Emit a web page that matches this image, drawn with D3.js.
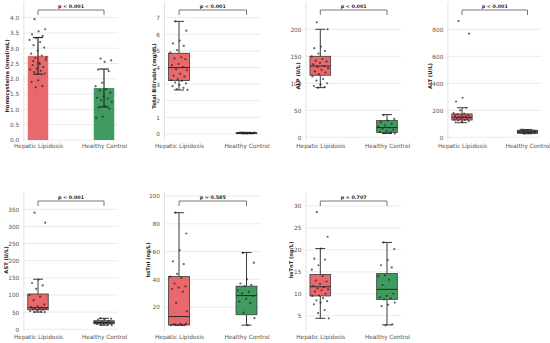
<!DOCTYPE html>
<html><head><meta charset="utf-8">
<script src="https://cdn.jsdelivr.net/npm/d3@7"></script>
<style>html,body{margin:0;padding:0;background:#fff}svg{display:block}</style>
</head><body>
<svg id="c" width="550" height="343"></svg>
<script>
// ---------- DATA ----------
const categories = ["Hepatic Lipidosis", "Healthy Control"];
const yLabels = ["Homocysteine (nmol/mL)", "Total Bilirubin (mg/dL)", "ALP (U/L)", "ALT (U/L)", "AST (U/L)", "hsTnI (ng/L)", "hsTnT (ng/L)"];
const pTexts = ["p < 0.001", "p < 0.001", "p < 0.001", "p < 0.001", "p < 0.001", "p = 0.585", "p = 0.707"];

const ticksHcy = [0.0, 0.5, 1.0, 1.5, 2.0, 2.5, 3.0, 3.5, 4.0];
const ticksTbil = [0, 1, 2, 3, 4, 5, 6, 7];
const ticksALP = [0, 50, 100, 150, 200];
const ticksALT = [0, 200, 400, 600, 800];
const ticksAST = [0, 50, 100, 150, 200, 250, 300, 350];
const ticksTnI = [20, 40, 60, 80, 100];
const ticksTnT = [5, 10, 15, 20, 25, 30];

// Homocysteine: bar = mean, error bar = SD
const hcyMean = [2.75, 1.70];
const hcySD = [0.60, 0.62];
const hcyHL = [3.95, 3.62, 3.55, 3.45, 3.40, 3.33, 3.27, 3.20, 3.10, 3.02, 2.92, 2.82, 2.76, 2.68, 2.62, 2.52, 2.45, 2.38, 2.33, 2.30, 2.26, 2.22, 2.17, 1.95, 1.90, 1.76, 1.72, 2.70, 2.48, 2.58];
const hcyHC = [2.66, 2.60, 2.55, 2.30, 2.25, 1.87, 1.76, 1.66, 1.62, 1.55, 1.42, 1.38, 1.35, 1.30, 1.25, 1.10, 1.06, 1.02, 0.76, 0.73];

// Box stats: [lower whisker, Q1, median, Q3, upper whisker]
const tbilBox = [[2.65, 3.22, 4.00, 4.86, 6.78], [0.02, 0.04, 0.05, 0.07, 0.10]];
const tbilHL = [6.78, 6.22, 5.62, 5.45, 5.30, 5.05, 4.90, 4.62, 4.55, 4.50, 4.22, 4.15, 4.02, 3.90, 3.85, 3.62, 3.50, 3.45, 3.30, 3.25, 3.20, 3.10, 3.05, 2.95, 2.88, 2.78, 2.70, 2.65];
const tbilHC = [0.05, 0.06, 0.04, 0.08, 0.03, 0.07, 0.05, 0.06, 0.09, 0.04, 0.05, 0.07, 0.06, 0.03, 0.08, 0.05];

const alpBox = [[92, 115, 132, 150, 200], [7, 9, 18, 31, 42]];
const alpHL = [213, 200, 168, 165, 160, 155, 150, 145, 142, 140, 138, 135, 132, 130, 128, 125, 122, 120, 117, 113, 108, 105, 100, 98, 95, 93, 92];
const alpHC = [41, 34, 31, 28, 25, 22, 20, 18, 16, 14, 12, 10, 9, 8, 7];

const altBox = [[108, 128, 148, 173, 219], [26, 30, 38, 52, 58]];
const altHL = [861, 768, 293, 265, 219, 200, 180, 175, 170, 165, 160, 158, 155, 150, 148, 145, 140, 138, 135, 130, 128, 125, 120, 115, 110];
const altHC = [28, 30, 32, 35, 38, 40, 42, 45, 48, 50, 52, 55, 35, 40, 44, 38, 57];

const astBox = [[50, 57, 63, 103, 146], [12, 16, 20, 25, 32]];
const astHL = [340, 311, 145, 135, 128, 118, 100, 95, 85, 72, 68, 65, 63, 62, 60, 60, 58, 57, 55, 53, 52, 51, 50];
const astHC = [32, 31, 30, 28, 25, 22, 20, 19, 18, 17, 16, 15, 14, 13, 12];

const tniBox = [[7, 7.1, 13.2, 42, 88], [7, 14.5, 28.3, 35.1, 59.3]];
const tniHL = [88, 73, 61, 53, 51, 44, 42, 41, 37, 35, 34, 33, 31, 23, 17, 8, 7.5, 7, 7, 7, 7.2, 7.5, 8];
const tniHC = [59, 52, 40, 37, 36, 35, 32, 31, 30, 28, 26, 24, 23, 16, 12, 7];

const tntBox = [[4.4, 9.5, 11.6, 14.4, 20.3], [2.9, 8.7, 11.0, 14.6, 21.7]];
const tntHL = [28.6, 23.0, 20.3, 18.0, 17.8, 16.5, 15.5, 14.0, 13.0, 12.8, 12.2, 11.8, 11.5, 11.2, 11.0, 10.8, 10.5, 10.0, 9.6, 9.5, 9.0, 8.5, 8.3, 8.0, 7.6, 6.3, 5.6, 4.4];
const tntHC = [21.7, 20.2, 17.7, 16.5, 16.0, 14.2, 14.0, 13.2, 12.0, 10.0, 9.5, 9.2, 9.0, 8.7, 8.0, 7.5, 7.2, 3.0, 2.8];

// ---------- LAYOUT ----------
const colors = ["#e8686b", "#3f9b60"];
const cols = [{c0: 38, c1: 104}, {c0: 179, c1: 246.5}, {c0: 320.3, c1: 387}, {c0: 462, c1: 527.5}];
const rows = [{top: 2, bottom: 140, brk: 10, lab: 148.3, ylab: 76},
              {top: 192, bottom: 331, brk: 201, lab: 339, ylab: 260}];

const panels = [
  {type: "bar", col: 0, row: 0, dom: [0, 4.51], ticks: ticksHcy, fmt: d3.format(".1f"), pts: [hcyHL, hcyHC], mean: hcyMean, sd: hcySD, ylx: 7},
  {type: "box", col: 1, row: 0, dom: [-0.361, 7.945], ticks: ticksTbil, fmt: d3.format("d"), pts: [tbilHL, tbilHC], box: tbilBox, ylx: 154},
  {type: "box", col: 2, row: 0, dom: [-5, 250.6], ticks: ticksALP, fmt: d3.format("d"), pts: [alpHL, alpHC], box: alpBox, ylx: 297.5},
  {type: "box", col: 3, row: 0, dom: [-20, 1002], ticks: ticksALT, fmt: d3.format("d"), pts: [altHL, altHC], box: altBox, ylx: 430},
  {type: "box", col: 0, row: 1, dom: [-4.96, 400.4], ticks: ticksAST, fmt: d3.format("d"), pts: [astHL, astHC], box: astBox, ylx: 6},
  {type: "box", col: 1, row: 1, dom: [2.8, 102.9], ticks: ticksTnI, fmt: d3.format("d"), pts: [tniHL, tniHC], box: tniBox, ylx: 148},
  {type: "box", col: 2, row: 1, dom: [1.51, 33.2], ticks: ticksTnT, fmt: d3.format("d"), pts: [tntHL, tntHC], box: tntBox, ylx: 291}
];

const svg = d3.select("#c");
const font = "DejaVu Sans, sans-serif";

panels.forEach((p, i) => {
  const C = cols[p.col], R = rows[p.row];
  const unit = C.c1 - C.c0;
  const x = d3.scaleLinear().domain([0, 1]).range([C.c0, C.c1]);
  const xl = x(-0.215), xr = x(1.215);
  const y = d3.scaleLinear().domain(p.dom).range([R.bottom, R.top]);
  const g = svg.append("g");

  // grid
  g.selectAll(".grid").data(p.ticks).join("line")
    .attr("x1", xl).attr("x2", xr)
    .attr("y1", d => y(d)).attr("y2", d => y(d))
    .attr("stroke", "#e6e6e6").attr("stroke-width", 0.8);
  // left spine
  g.append("line").attr("x1", xl).attr("x2", xl).attr("y1", R.top).attr("y2", R.bottom)
    .attr("stroke", "#dcdcdc").attr("stroke-width", 0.8);
  // y axis tick labels
  const ax = d3.axisLeft(y).tickValues(p.ticks).tickFormat(p.fmt).tickSize(0).tickPadding(4.5);
  const axg = g.append("g").attr("transform", `translate(${xl},0)`).call(ax);
  axg.select(".domain").remove();
  axg.selectAll("text").attr("font-family", font).attr("font-size", 5.8).attr("fill", "#555");
  // x category labels
  const xa = d3.axisBottom(x).tickValues([0, 1]).tickFormat(d => categories[d]).tickSize(0).tickPadding(0);
  const xag = g.append("g").attr("transform", `translate(0,${R.lab})`).call(xa);
  xag.select(".domain").remove();
  xag.selectAll("text").attr("font-family", font).attr("font-size", 5.8).attr("fill", "#555").attr("dy", 0).attr("y", 0);

  const halfW = 0.155 * unit, capW = 0.075 * unit;
  if (p.type === "bar") {
    g.selectAll(".bar").data(p.mean).join("rect")
      .attr("x", (d, k) => x(k) - halfW).attr("width", 2 * halfW)
      .attr("y", d => y(d)).attr("height", d => y(0) - y(d))
      .attr("fill", (d, k) => colors[k]);
  } else {
    p.box.forEach((b, k) => {
      const cx = x(k);
      g.append("line").attr("x1", cx).attr("x2", cx).attr("y1", y(b[0])).attr("y2", y(b[1])).attr("stroke", "#3a3a3a").attr("stroke-width", 1);
      g.append("line").attr("x1", cx).attr("x2", cx).attr("y1", y(b[3])).attr("y2", y(b[4])).attr("stroke", "#3a3a3a").attr("stroke-width", 1);
      [b[0], b[4]].forEach(v => g.append("line").attr("x1", cx - capW).attr("x2", cx + capW).attr("y1", y(v)).attr("y2", y(v)).attr("stroke", "#3a3a3a").attr("stroke-width", 1));
      g.append("rect").attr("x", cx - halfW).attr("width", 2 * halfW)
        .attr("y", y(b[3])).attr("height", Math.max(0.6, y(b[1]) - y(b[3])))
        .attr("fill", colors[k]).attr("stroke", "#3a3a3a").attr("stroke-width", 0.8);
      g.append("line").attr("x1", cx - halfW).attr("x2", cx + halfW).attr("y1", y(b[2])).attr("y2", y(b[2])).attr("stroke", "#2a2a2a").attr("stroke-width", 1);
    });
  }

  // jittered points (deterministic spread)
  p.pts.forEach((arr, k) => {
    g.selectAll(".pt" + k).data(arr).join("circle")
      .attr("cx", (d, j) => x(k + (((j * 0.618034 + 0.3) % 1) - 0.5) * 0.26))
      .attr("cy", d => y(d)).attr("r", 1.1)
      .attr("fill", "#222").attr("opacity", 0.7);
  });

  if (p.type === "bar") {
    p.mean.forEach((m, k) => {
      const cx = x(k);
      g.append("line").attr("x1", cx).attr("x2", cx).attr("y1", y(m - p.sd[k])).attr("y2", y(m + p.sd[k])).attr("stroke", "#2a2a2a").attr("stroke-width", 1.2);
      [m - p.sd[k], m + p.sd[k]].forEach(v => g.append("line").attr("x1", cx - capW).attr("x2", cx + capW).attr("y1", y(v)).attr("y2", y(v)).attr("stroke", "#2a2a2a").attr("stroke-width", 1.2));
    });
  }

  // significance bracket
  g.append("path").attr("d", `M${x(0)},${R.brk + 5}V${R.brk}H${x(1)}V${R.brk + 5}`)
    .attr("fill", "none").attr("stroke", "#555").attr("stroke-width", 0.8);
  g.append("text").attr("x", (x(0) + x(1)) / 2).attr("y", R.brk - 2.2)
    .attr("text-anchor", "middle").attr("font-family", font).attr("font-size", 4.8).attr("font-weight", "bold").attr("fill", "#222")
    .text(pTexts[i]);

  // y label
  g.append("text").attr("transform", `translate(${p.ylx},${R.ylab}) rotate(-90)`)
    .attr("text-anchor", "middle").attr("dominant-baseline", "central")
    .attr("font-family", font).attr("font-size", 5.2).attr("font-weight", "bold").attr("fill", "#222")
    .text(yLabels[i]);
});
</script>
</body></html>
